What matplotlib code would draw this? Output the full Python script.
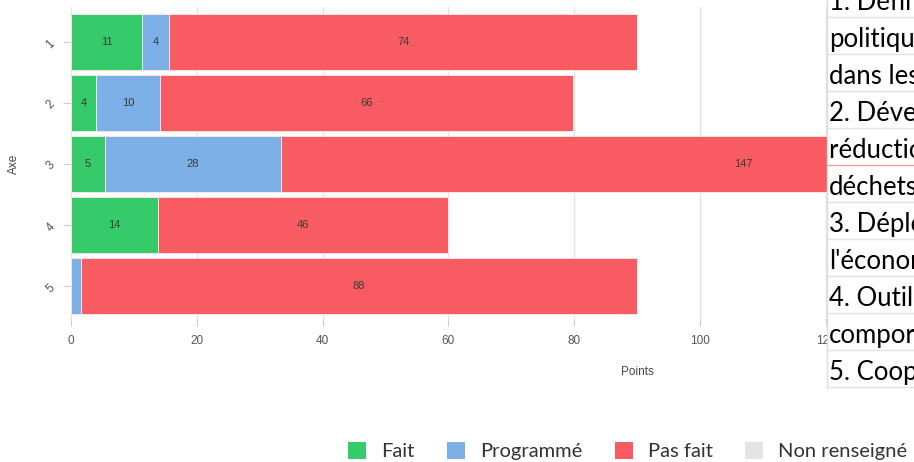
import matplotlib
matplotlib.use("Agg")
import matplotlib.pyplot as plt
from matplotlib.patches import Patch, Rectangle
from matplotlib.lines import Line2D
import numpy as np

# %% Data

axes_labels = ["1", "2", "3", "4", "5"]
fait = [11.3, 4.0, 5.4, 13.8, 0.0]
programme = [4.3, 10.1, 28.0, 0.0, 1.6]
pas_fait = [74.4, 65.7, 147.0, 46.1, 88.4]
non_renseigne = [0, 0, 0, 0, 0]

series_names = ["Fait", "Programmé", "Pas fait", "Non renseigné"]
series_colors = ["#35CB6B", "#7BAFE6", "#F85C62", "#E4E4E4"]

x_ticks = [0, 20, 40, 60, 80, 100, 120]

# text box pasted over the right side of the chart (cut by the image edge)
note_lines = [
    "1. Définir la", "politique", "dans les", "2. Développer la",
    "réduction des", "déchets", "3. Déployer", "l'économie",
    "4. Outiller les", "comportements", "5. Coopérer",
]

# %% Figure

W, H = 914, 462
fig = plt.figure(figsize=(W / 100, H / 100), dpi=100)


def px(x0, y0, x1, y1):
    """Figure-fraction rect from pixel box (top-left origin)."""
    return [x0 / W, 1 - y1 / H, (x1 - x0) / W, (y1 - y0) / H]


ax = fig.add_axes(px(71, 7, 1203, 318))

ypos = np.arange(len(axes_labels))
left = np.zeros(len(axes_labels))
for name, vals, color in zip(series_names,
                             [fait, programme, pas_fait, non_renseigne],
                             series_colors):
    vals = np.array(vals, dtype=float)
    ax.barh(ypos, vals, left=left, height=0.92, color=color,
            edgecolor="#fbeaea", linewidth=0.6, zorder=2)
    for y, l, v in zip(ypos, left, vals):
        if v >= 3:
            ax.text(l + v / 2, y, f"{v:.0f}", ha="center", va="center",
                    fontsize=8, color="#3a3a3a", family="Liberation Sans", zorder=3)
    left += vals

ax.set_xlim(0, 180)
ax.set_ylim(4.525, -0.574)
ax.set_yticks(ypos)
ax.set_yticklabels(axes_labels, rotation=45, fontsize=8.5, color="#555555",
                   family="Liberation Sans")
ax.set_xticks(x_ticks)
ax.set_xticklabels([str(t) for t in x_ticks], fontsize=8.5, color="#555555",
                   family="Liberation Sans")
ax.tick_params(axis="x", length=6, width=0.8, color="#cccccc", pad=6, direction="out")
ax.tick_params(axis="y", length=6, width=0.8, color="#cccccc", pad=4, direction="out")
for s in ax.spines.values():
    s.set_visible(False)
ax.xaxis.grid(True, color="#e2e2e2", linewidth=1, zorder=0)
ax.set_axisbelow(True)

fig.text(637 / W, 1 - 372 / H, "Points", ha="center", va="center",
         fontsize=8.5, color="#444444", family="Liberation Sans")
fig.text(14 / W, 1 - 164 / H, "Axe", ha="center", va="center", rotation=90,
         fontsize=8.5, color="#444444", family="Liberation Sans")

# %% Legend

handles = [Patch(facecolor=c, edgecolor="none") for c in series_colors]
fig.legend(handles, series_names, loc="center left",
           bbox_to_anchor=(330 / W, 1 - 451 / H), ncol=4, frameon=False,
           prop={"family": "Lato", "size": 14.5}, handlelength=0.9,
           handleheight=0.9, handletextpad=0.75, columnspacing=1.6,
           labelcolor="#333333")

# %% Overlay text box

fig.patches.append(Rectangle((827 / W, 1 - 388 / H), (W - 827) / W, 388 / H,
                             transform=fig.transFigure, facecolor="white",
                             edgecolor="none", zorder=10))
fig.lines.append(Line2D([827 / W, 827 / W], [1, 1 - 388 / H],
                        transform=fig.transFigure, color="#dddddd", lw=1, zorder=11))
for k in range(11):
    yb = 17 + 37 * k
    col = "#f2a0a0" if k == 4 else "#e2e2e2"
    fig.lines.append(Line2D([827 / W, 1], [1 - yb / H, 1 - yb / H],
                            transform=fig.transFigure, color=col, lw=1, zorder=11))
for k, line in enumerate(note_lines):
    fig.text(829 / W, 1 - (10 + 37 * k) / H, line, ha="left", va="baseline",
             fontsize=18.5, color="black", family="Lato", zorder=12)

fig.savefig("out.png", dpi=100)
